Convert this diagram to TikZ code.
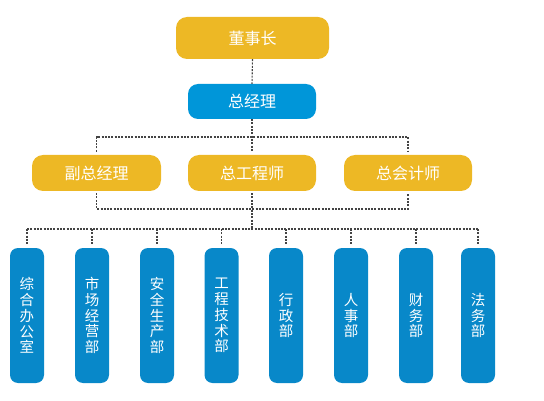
\documentclass[tikz,border=0pt]{standalone}
\usepackage{fontspec}
\newfontfamily\cjk{Noto Sans CJK SC}
\definecolor{ygold}{HTML}{EDB825}
\definecolor{bmain}{HTML}{0096D9}
\definecolor{bdept}{HTML}{0888C9}
\definecolor{dline}{HTML}{444444}
\tikzset{
  ybox/.style={fill=ygold, rounded corners=11pt, text=white, font=\cjk\fontsize{16}{18}\selectfont, inner sep=0pt},
  mbox/.style={fill=bmain, rounded corners=10pt, text=white, font=\cjk\fontsize{16}{18}\selectfont, inner sep=0pt},
  dbox/.style={fill=bdept, rounded corners=8pt, text=white, font=\cjk\fontsize{14.5}{15.8}\selectfont, inner sep=0pt, minimum width=34pt, minimum height=135pt, align=center},
  link/.style={draw=dline, line width=1.1pt, dash pattern=on 2pt off 1.3pt},
}
\begin{document}
\begin{tikzpicture}[x=1pt,y=-1pt]
\useasboundingbox (0,0) rectangle (544,401);
\node[ybox, minimum width=153pt, minimum height=42pt] (dsz) at (252.5,38) {董事长};
\node[mbox, minimum width=128pt, minimum height=35pt] (zjl) at (252,101.5) {总经理};
\node[ybox, minimum width=129pt, minimum height=36pt] (fz) at (96.5,173) {副总经理};
\node[ybox, minimum width=128pt, minimum height=36pt] (zgc) at (252,173) {总工程师};
\node[ybox, minimum width=128pt, minimum height=36pt] (zkj) at (408,173) {总会计师};

\foreach \n/\x/\t in {d1/27/综\\合\\办\\公\\室, d2/92/市\\场\\经\\营\\部, d3/157/安\\全\\生\\产\\部, d4/221.5/工\\程\\技\\术\\部, d5/286/行\\政\\部, d6/351/人\\事\\部, d7/416/财\\务\\部, d8/478/法\\务\\部}
  \node[dbox] (\n) at (\x,315.5) {\t};

\coordinate (h1) at (252,137);
\coordinate (h2) at (252,209);
\coordinate (h3) at (252,229);

\draw[link] (dsz.south) -- (zjl.north);
\draw[link] (zjl.south) -- ([yshift=3pt]zgc.north);
\draw[link] ([yshift=3pt]fz.north) -- (fz.north |- h1) -- (zkj.north |- h1) -- ([yshift=3pt]zkj.north);
\draw[link] ([yshift=-2pt]fz.south) -- (fz.south |- h2) -- (zkj.south |- h2) -- ([yshift=-2pt]zkj.south);
\draw[link] ([yshift=-2pt]zgc.south) -- (h3);
\draw[link] (d1.north |- h3) -- (d8.north |- h3);
\foreach \n in {d1,d2,d3,d4,d5,d6,d7,d8}
  \draw[link] (\n.north |- h3) -- ([yshift=4pt]\n.north);
\end{tikzpicture}
\end{document}
